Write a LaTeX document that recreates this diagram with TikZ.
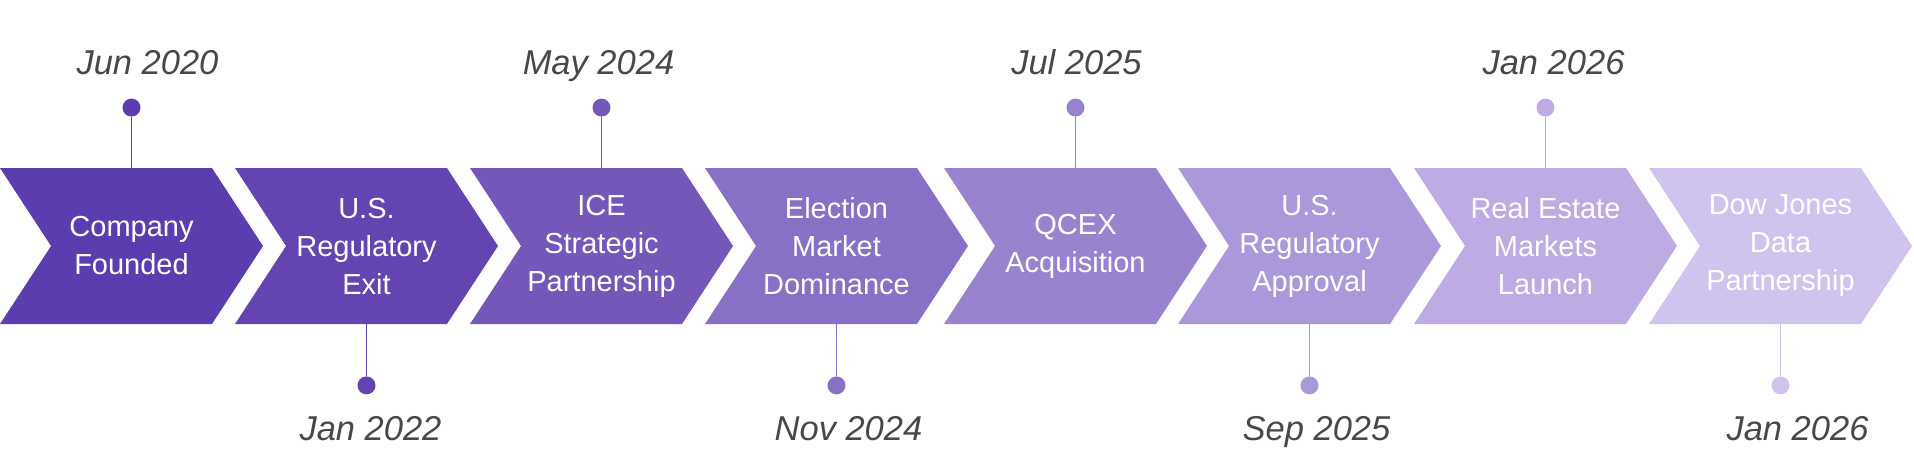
\documentclass[tikz,border=0pt]{standalone}
\usepackage{fontspec}
\setmainfont{Liberation Sans}
\usepackage{tikz}
\usetikzlibrary{shapes.symbols,positioning}
\definecolor{tlpurpleA}{RGB}{91,61,176}
\definecolor{tlpurpleB}{RGB}{99,68,177}
\definecolor{tlpurpleC}{RGB}{116,87,184}
\definecolor{tlpurpleD}{RGB}{136,112,198}
\definecolor{tlpurpleE}{RGB}{153,131,207}
\definecolor{tlpurpleF}{RGB}{170,152,219}
\definecolor{tlpurpleG}{RGB}{190,171,228}
\definecolor{tlpurpleH}{RGB}{208,196,239}
\definecolor{tlgrey}{RGB}{72,72,72}
\tikzset{
  tlchev/.style={signal, signal to=east, signal from=west, signal pointer angle=113.6, minimum width=263pt, minimum height=156pt, inner sep=0pt, text=white, align=center, font=\fontsize{29}{38}\selectfont},
  tldot/.style={circle, inner sep=0pt, minimum size=18pt},
  tldate/.style={inner sep=0pt, text depth=0pt, text=tlgrey, font=\fontsize{34.5}{40}\selectfont\itshape},
  tlline/.style={line width=1.2pt}
}

\begin{document}
\begin{tikzpicture}[x=1pt, y=1pt]
  \useasboundingbox (0,0) rectangle (1914,459);
  \node[tlchev, fill=tlpurpleA] (founded) at (131.5,213) {Company\\Founded};
  \node[tlchev, fill=tlpurpleB] (exit) at (366.5,213) {U.S.\\Regulatory\\Exit};
  \node[tlchev, fill=tlpurpleC] (ice) at (601.5,213) {ICE\\Strategic\\Partnership};
  \node[tlchev, fill=tlpurpleD] (election) at (836.5,213) {Election\\Market\\Dominance};
  \node[tlchev, fill=tlpurpleE] (qcex) at (1075.5,213) {QCEX\\Acquisition};
  \node[tlchev, fill=tlpurpleF] (approval) at (1309.5,213) {U.S.\\Regulatory\\Approval};
  \node[tlchev, fill=tlpurpleG] (realestate) at (1545.5,213) {Real Estate\\Markets\\Launch};
  \node[tlchev, fill=tlpurpleH] (dowjones) at (1780.5,213) {Dow Jones\\Data\\Partnership};
  % milestones above the arrows
  \node[tldot, fill=tlpurpleA, above=51pt of founded] (foundedpt) {};
  \node[tldot, fill=tlpurpleC, above=51pt of ice] (icept) {};
  \node[tldot, fill=tlpurpleE, above=51pt of qcex] (qcexpt) {};
  \node[tldot, fill=tlpurpleG, above=51pt of realestate] (realestatept) {};
  \node[tldate, above=24pt of foundedpt, xshift=16pt] (foundeddate) {Jun 2020};
  \node[tldate, above=24pt of icept, xshift=-3pt] (icedate) {May 2024};
  \node[tldate, above=24pt of qcexpt, xshift=1pt] (qcexdate) {Jul 2025};
  \node[tldate, above=24pt of realestatept, xshift=8pt] (realestatedate) {Jan 2026};
  \draw[tlline, draw=tlpurpleA] (foundedpt) -- (founded.north);
  \draw[tlline, draw=tlpurpleC] (icept) -- (ice.north);
  \draw[tlline, draw=tlpurpleE] (qcexpt) -- (qcex.north);
  \draw[tlline, draw=tlpurpleG] (realestatept) -- (realestate.north);
  % milestones below the arrows
  \node[tldot, fill=tlpurpleB, below=52pt of exit] (exitpt) {};
  \node[tldot, fill=tlpurpleD, below=52pt of election] (electionpt) {};
  \node[tldot, fill=tlpurpleF, below=52pt of approval] (approvalpt) {};
  \node[tldot, fill=tlpurpleH, below=52pt of dowjones] (dowjonespt) {};
  \node[tldate, below=22pt of exitpt, xshift=4pt] (exitdate) {Jan 2022};
  \node[tldate, below=22pt of electionpt, xshift=12pt] (electiondate) {Nov 2024};
  \node[tldate, below=22pt of approvalpt, xshift=7pt] (approvaldate) {Sep 2025};
  \node[tldate, below=22pt of dowjonespt, xshift=17pt] (dowjonesdate) {Jan 2026};
  \draw[tlline, draw=tlpurpleB] (exitpt) -- (exit.south);
  \draw[tlline, draw=tlpurpleD] (electionpt) -- (election.south);
  \draw[tlline, draw=tlpurpleF] (approvalpt) -- (approval.south);
  \draw[tlline, draw=tlpurpleH] (dowjonespt) -- (dowjones.south);
\end{tikzpicture}
\end{document}
